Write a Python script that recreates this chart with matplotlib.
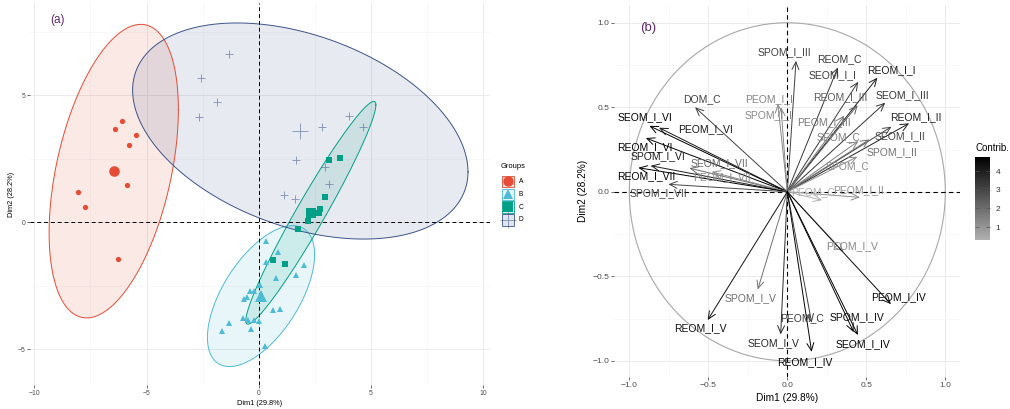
import numpy as np
import matplotlib
matplotlib.use("Agg")
import matplotlib.pyplot as plt
from matplotlib.patches import FancyArrowPatch, Rectangle
from matplotlib.colors import LinearSegmentedColormap, Normalize
import matplotlib.colorbar as mcolorbar

plt.rcParams['font.family'] = ['Liberation Sans', 'DejaVu Sans']

# ---------------- panel (a): individuals ----------------
grp_names = ['A', 'B', 'C', 'D']
grp_colors = ['#E64B35', '#4DBBD5', '#00A087', '#3C5488']
grp_markers = ['o', '^', 's', '+']

a_x = [-6.08, -6.40, -5.45, -5.79, -5.88, -8.04, -7.74, -6.28]
a_y = [4.00, 3.69, 3.46, 3.03, 1.48, 1.19, 0.59, -1.42]
b_x = [0.33, 0.84, 0.32, 2.01, 1.66, 0.77, 0.05, -0.39, -0.21, -0.66, -0.53,
       0.62, 0.94, -0.72, -0.47, -0.21, 0.00, -1.33, -1.64, -0.33, 0.26]
b_y = [-0.73, -1.15, -1.57, -1.69, -2.06, -2.18, -2.46, -2.69, -2.69, -3.03, -2.94,
       -3.45, -3.41, -3.75, -3.84, -3.84, -3.88, -3.95, -4.28, -4.20, -4.87]
c_x = [3.62, 3.14, 2.95, 2.74, 2.68, 2.19, 1.75, 0.65, 1.15]
c_y = [2.53, 2.44, 0.99, 0.52, 0.36, 0.04, -0.26, -1.49, -1.65]
d_x = [-1.33, -2.58, -1.84, -2.68, 4.04, 2.83, 4.65, 1.68, 2.95, 3.12, 1.12, 1.60]
d_y = [6.64, 5.67, 4.76, 4.15, 4.20, 3.77, 3.77, 2.47, 2.20, 1.50, 1.07, 0.94]
pts_x = [a_x, b_x, c_x, d_x]
pts_y = [a_y, b_y, c_y, d_y]

centroid_x = [-6.46, 0.10, 2.32, 1.85]
centroid_y = [2.02, -2.90, 0.38, 3.60]
# concentration ellipses: covariance terms
ell_sxx = [8.29, 5.7, 8.39, 55.8]
ell_syy = [33.4, 7.7, 19.24, 18.1]
ell_sxy = [6.99, 3.9, 12.29, -12.0]

# ---------------- panel (b): variables ----------------
var_names = ['SEOM_I_VI', 'DOM_C', 'PEOM_I_VI', 'REOM_I_VI', 'SPOM_I_VI', 'SEOM_I_VII',
             'PEOM_I_VII', 'REOM_I_VII', 'SPOM_I_VII', 'SPOM_I_III', 'PEOM_I_I', 'SPOM_I_I',
             'REOM_C', 'SEOM_I_I', 'REOM_I_I', 'REOM_I_III', 'SEOM_I_III', 'PEOM_I_III',
             'SEOM_C', 'REOM_I_II', 'SEOM_I_II', 'SPOM_I_II', 'SPOM_C', 'PEOM_C',
             'PEOM_I_II', 'PEOM_I_V', 'PEOM_I_IV', 'SPOM_I_V', 'REOM_I_V', 'SEOM_I_V',
             'PEOM_C', 'REOM_I_IV', 'SPOM_I_IV', 'SEOM_I_IV']
var_x = [-0.873, -0.584, -0.812, -0.896, -0.865, -0.62, -0.479, -0.943, -0.753, 0.055,
         -0.06, -0.04, 0.32, 0.449, 0.57, 0.445, 0.62, 0.36, 0.45, 0.771, 0.66, 0.52,
         0.443, 0.22, 0.46, 0.355, 0.656, -0.187, -0.504, -0.042, 0.154, 0.154, 0.42, 0.447]
var_y = [0.39, 0.50, 0.379, 0.318, 0.154, 0.14, 0.118, 0.142, 0.044, 0.775,
         0.52, 0.50, 0.736, 0.651, 0.675, 0.513, 0.527, 0.45, 0.30, 0.405, 0.385, 0.31,
         0.207, -0.05, -0.033, -0.355, -0.665, -0.578, -0.759, -0.844, -0.775, -0.947, -0.83, -0.848]
var_contrib = [4.77, 3.08, 4.19, 4.72, 4.03, 2.10, 1.27, 4.75, 2.97, 3.15,
               1.43, 1.32, 3.36, 3.26, 4.07, 2.41, 3.46, 1.72, 1.53, 3.96, 3.05, 1.90,
               1.25, 0.30, 1.11, 1.32, 4.55, 1.93, 4.33, 3.73, 3.26, 4.70, 4.52, 4.70]

# label placement (repelled positions), data units
lab_x = [-0.901, -0.543, -0.521, -0.901, -0.816, -0.432, -0.415, -0.896, -0.816, -0.021,
         -0.113, -0.116, 0.328, 0.283, 0.656, 0.334, 0.726, 0.232, 0.327, 0.815, 0.713, 0.663,
         0.384, 0.163, 0.448, 0.407, 0.703, -0.236, -0.553, -0.089, 0.091, 0.112, 0.439, 0.479]
lab_y = [0.441, 0.547, 0.371, 0.266, 0.211, 0.168, 0.089, 0.093, -0.010, 0.828,
         0.548, 0.454, 0.783, 0.692, 0.720, 0.558, 0.572, 0.414, 0.326, 0.444, 0.330, 0.237,
         0.152, 0.0, 0.010, -0.321, -0.623, -0.631, -0.808, -0.897, -0.745, -1.006, -0.740, -0.901]

W, H = 1010, 409
fig = plt.figure(figsize=(W / 100, H / 100), dpi=100)

def fbox(l, t, r, b):
    return [l / W, 1 - b / H, (r - l) / W, (b - t) / H]

def minimal(ax, fs):
    for s in ax.spines.values():
        s.set_visible(False)
    ax.grid(True, which='major', color='#EBEBEB', lw=0.7, zorder=0)
    ax.grid(True, which='minor', color='#F3F3F3', lw=0.4, zorder=0)
    ax.tick_params(which='major', length=2, width=0.5, color='#333333', labelsize=fs,
                   labelcolor='#4D4D4D', pad=1.5)
    ax.tick_params(which='minor', length=0)
    ax.set_axisbelow(True)

# ---- (a)
ax1 = fig.add_axes(fbox(30, 3, 490, 385))
minimal(ax1, 4.9)
ax1.set_xlim(-10.19, 10.30)
ax1.set_ylim(-6.40, 8.64)
ax1.set_xticks([-10, -5, 0, 5, 10])
ax1.set_yticks([-5, 0, 5])
ax1.set_xticks([-7.5, -2.5, 2.5, 7.5], minor=True)
ax1.set_yticks([-2.5, 2.5, 7.5], minor=True)

t = np.linspace(0, 2 * np.pi, 300)
for i in range(4):
    S = np.array([[ell_sxx[i], ell_sxy[i]], [ell_sxy[i], ell_syy[i]]])
    L = np.linalg.cholesky(S)
    e = np.array([[centroid_x[i]], [centroid_y[i]]]) + L @ np.vstack([np.cos(t), np.sin(t)])
    ax1.fill(e[0], e[1], facecolor=grp_colors[i], alpha=0.12, lw=0, zorder=1)
    ax1.plot(e[0], e[1], color=grp_colors[i], lw=0.7, zorder=2)

ax1.axhline(0, color='black', lw=0.7, ls=(0, (4, 3)), zorder=3)
ax1.axvline(0, color='black', lw=0.7, ls=(0, (4, 3)), zorder=3)

msize = {'o': 3.8, '^': 4.4, 's': 3.8, '+': 6.0}
for i in range(4):
    m = grp_markers[i]
    kw = dict(ls='', marker=m, color=grp_colors[i], zorder=4)
    if m == '+':
        kw.update(markeredgewidth=0.6, alpha=0.6)
    else:
        kw.update(markeredgewidth=0)
    ax1.plot(pts_x[i], pts_y[i], markersize=msize[m], **kw)
    ax1.plot([centroid_x[i]], [centroid_y[i]], markersize=msize[m] * 2, **kw)

ax1.set_xlabel('Dim1 (29.8%)', fontsize=5.3, labelpad=2)
ax1.set_ylabel('Dim2 (28.2%)', fontsize=5.3, labelpad=2)
ax1.text(0.045, 0.955, '(a)', transform=ax1.transAxes, fontsize=8.5, color='#5E2A6E',
         ha='left', va='center')

# ---- (b)
ax2 = fig.add_axes(fbox(614, 5, 960, 377))
minimal(ax2, 6.1)
ax2.set_xlim(-1.097, 1.093)
ax2.set_ylim(-1.096, 1.105)
ax2.set_xticks([-1.0, -0.5, 0.0, 0.5, 1.0])
ax2.set_yticks([-1.0, -0.5, 0.0, 0.5, 1.0])
ax2.set_xticks([-0.75, -0.25, 0.25, 0.75], minor=True)
ax2.set_yticks([-0.75, -0.25, 0.25, 0.75], minor=True)

ax2.plot(np.cos(t), np.sin(t), color='#A8A8A8', lw=0.8, zorder=1)
ax2.axhline(0, color='black', lw=0.8, ls=(0, (4, 3)), zorder=1)
ax2.axvline(0, color='black', lw=0.8, ls=(0, (4, 3)), zorder=1)

cmap = LinearSegmentedColormap.from_list('contrib', ['#B0B0B0', '#000000'])
norm = Normalize(vmin=min(var_contrib), vmax=max(var_contrib))
for i, name in enumerate(var_names):
    col = cmap(norm(var_contrib[i]))
    ar = FancyArrowPatch((0, 0), (var_x[i], var_y[i]), arrowstyle='->,head_length=0.55,head_width=0.25',
                         mutation_scale=10, color=col, lw=0.7, shrinkA=0, shrinkB=0, zorder=2)
    ax2.add_patch(ar)
    ax2.text(lab_x[i], lab_y[i], name, color=col, fontsize=7.5, ha='center', va='center',
             zorder=3)

ax2.set_xlabel('Dim1 (29.8%)', fontsize=7.3, labelpad=3)
ax2.set_ylabel('Dim2 (28.2%)', fontsize=7.3, labelpad=3)
ax2.text(0.10, 0.937, '(b)', transform=ax2.transAxes, fontsize=9.5, color='#5E2A6E',
         ha='center', va='center')

# colourbar
cax = fig.add_axes(fbox(975, 157, 990, 240))
cb = mcolorbar.ColorbarBase(cax, cmap=cmap, norm=norm, orientation='vertical')
cb.set_ticks([1, 2, 3, 4])
cb.outline.set_visible(False)
cax.tick_params(length=3, width=0.5, color='#555555', direction='in', labelsize=6,
                labelcolor='#333333', pad=4, left=True, right=True)
fig.text(975 / W, 1 - 148 / H, 'Contrib.', fontsize=7, ha='left', va='center')

# group legend for (a)
lg = fig.add_axes([0, 0, 1, 1])
lg.set_xlim(0, W)
lg.set_ylim(H, 0)
lg.axis('off')
lg.patch.set_alpha(0)
lg.text(501, 167, 'Groups', fontsize=5.4, ha='left', va='center')
for i in range(4):
    top = 175.7 + i * 12.8
    lg.add_patch(Rectangle((502, top), 11.5, 11.5, facecolor=grp_colors[i], alpha=0.15, lw=0))
    lg.add_patch(Rectangle((502, top), 11.5, 11.5, facecolor='none', edgecolor=grp_colors[i], lw=0.6))
    m = grp_markers[i]
    kw = dict(ls='', marker=m, color=grp_colors[i])
    if m == '+':
        lg.plot([507.75], [top + 5.75], markersize=11, markeredgewidth=0.6, alpha=0.6, **kw)
    else:
        lg.plot([507.75], [top + 5.75], markersize=7.5, markeredgewidth=0, **kw)
    lg.text(518.5, top + 5.75, grp_names[i], fontsize=4.8, ha='left', va='center')

fig.savefig('out.png', dpi=100)
